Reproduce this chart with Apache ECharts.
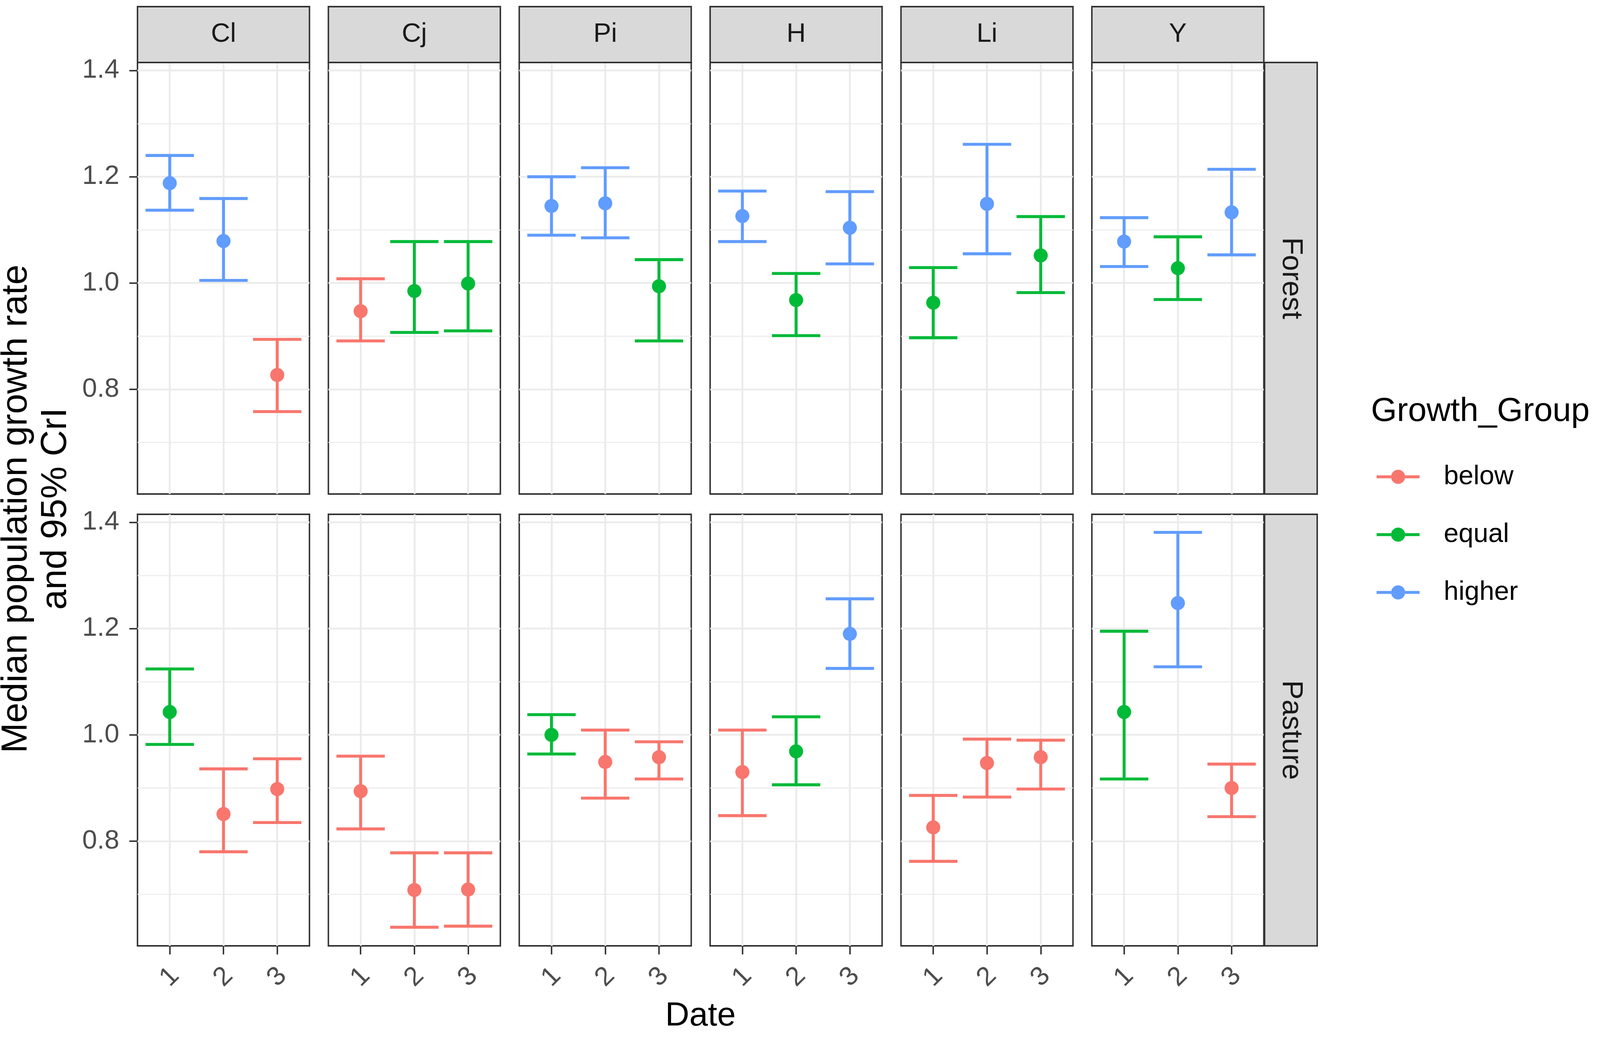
<!DOCTYPE html>
<html><head><meta charset="utf-8">
<script src="https://cdn.jsdelivr.net/npm/echarts@6/dist/echarts.min.js"></script>
<style>html,body{margin:0;padding:0;background:#fff;overflow:hidden;width:100%;height:100%}#c{width:100%;height:100vh}</style>
</head><body><div id="c"></div>
<script>
// ---------------- data ----------------
const species = ['Cl', 'Cj', 'Pi', 'H', 'Li', 'Y'];
const habitats = ['Forest', 'Pasture'];
const dates = [1, 2, 3];
const groups = ['below', 'equal', 'higher'];
const yTicks = [0.8, 1.0, 1.2, 1.4];
const yMinorTicks = [0.7, 0.9, 1.1, 1.3];

const forestMedian = [
  [1.188, 1.079, 0.827], [0.947, 0.985, 0.999], [1.145, 1.150, 0.994],
  [1.126, 0.968, 1.104], [0.963, 1.149, 1.052], [1.078, 1.028, 1.133]];
const forestLower = [
  [1.137, 1.005, 0.758], [0.891, 0.907, 0.910], [1.090, 1.085, 0.891],
  [1.078, 0.901, 1.036], [0.897, 1.055, 0.982], [1.031, 0.969, 1.053]];
const forestUpper = [
  [1.240, 1.159, 0.894], [1.008, 1.078, 1.078], [1.200, 1.217, 1.044],
  [1.173, 1.018, 1.172], [1.029, 1.261, 1.125], [1.123, 1.087, 1.214]];
const forestGroup = [
  ['higher', 'higher', 'below'], ['below', 'equal', 'equal'], ['higher', 'higher', 'equal'],
  ['higher', 'equal', 'higher'], ['equal', 'higher', 'equal'], ['higher', 'equal', 'higher']];

const pastureMedian = [
  [1.043, 0.851, 0.898], [0.894, 0.708, 0.709], [1.000, 0.949, 0.958],
  [0.930, 0.969, 1.190], [0.826, 0.947, 0.958], [1.043, 1.248, 0.900]];
const pastureLower = [
  [0.982, 0.780, 0.835], [0.823, 0.638, 0.640], [0.964, 0.881, 0.917],
  [0.848, 0.906, 1.125], [0.762, 0.883, 0.898], [0.917, 1.128, 0.846]];
const pastureUpper = [
  [1.124, 0.936, 0.955], [0.960, 0.778, 0.778], [1.038, 1.009, 0.987],
  [1.009, 1.034, 1.256], [0.886, 0.992, 0.990], [1.195, 1.381, 0.945]];
const pastureGroup = [
  ['equal', 'below', 'below'], ['below', 'below', 'below'], ['equal', 'below', 'below'],
  ['below', 'equal', 'higher'], ['below', 'below', 'below'], ['equal', 'higher', 'below']];

// ---------------- styles / layout ----------------
const groupColors = { below: '#F8766D', equal: '#00BA38', higher: '#619CFF' };
const FONT = '"Liberation Sans", Arial, Helvetica, sans-serif';
const Y_MIN = 0.603, Y_MAX = 1.415, X_MIN = 0.4, X_MAX = 3.6;

const chart = echarts.init(document.getElementById('c'), null, { renderer: 'canvas' });
const CW = chart.getWidth(), CH = chart.getHeight();
const sx = CW / 4317, sy = CH / 2658, sf = Math.min(sx, sy);
const px = v => v * sx, py = v => v * sy, fz = v => v * sf;

const PANEL_LEFT = 371, PANEL_W = 464, PANEL_STEP = 515;
const ROW_TOP = [160, 1317], PANEL_H = 1105;
const STRIP_TOP = 17;

const medianByRow = [forestMedian, pastureMedian];
const lowerByRow = [forestLower, pastureLower];
const upperByRow = [forestUpper, pastureUpper];
const groupByRow = [forestGroup, pastureGroup];

const grids = [], xAxes = [], yAxes = [], series = [], graphics = [];

function renderErr(params, api) {
  const x = api.value(0), lo = api.value(1), hi = api.value(2);
  const pLo = api.coord([x, lo]), pHi = api.coord([x, hi]);
  const hw = api.size([0.9, 0])[0] / 2;
  const st = { stroke: api.visual('color'), lineWidth: fz(8), fill: 'none', lineCap: 'butt' };
  return {
    type: 'group',
    children: [
      { type: 'line', shape: { x1: pLo[0], y1: pLo[1], x2: pHi[0], y2: pHi[1] }, style: st },
      { type: 'line', shape: { x1: pHi[0] - hw, y1: pHi[1], x2: pHi[0] + hw, y2: pHi[1] }, style: st },
      { type: 'line', shape: { x1: pLo[0] - hw, y1: pLo[1], x2: pLo[0] + hw, y2: pLo[1] }, style: st }
    ]
  };
}

const tickStyle = { color: '#333333', width: fz(4) };
const gridMajor = { color: '#EBEBEB', width: fz(5) };
const gridMinor = { color: '#EBEBEB', width: fz(2.5) };

for (let r = 0; r < habitats.length; r++) {
  for (let c = 0; c < species.length; c++) {
    const idx = r * species.length + c;
    const L = PANEL_LEFT + c * PANEL_STEP, T = ROW_TOP[r];
    grids.push({ left: px(L), top: py(T), width: px(PANEL_W), height: py(PANEL_H), show: true,
      borderColor: '#333333', borderWidth: fz(4), backgroundColor: '#ffffff' });
    xAxes.push({
      gridIndex: idx, type: 'value', min: X_MIN, max: X_MAX,
      axisLine: { show: false },
      axisTick: { show: r === 1, customValues: dates, length: py(22), lineStyle: tickStyle },
      axisLabel: { show: r === 1, customValues: dates, rotate: 45, align: 'center', verticalAlign: 'middle',
        margin: py(80), fontSize: fz(72), color: '#4D4D4D', fontFamily: FONT },
      splitLine: { show: true, lineStyle: gridMajor }
    });
    yAxes.push({
      gridIndex: idx, type: 'value', min: Y_MIN, max: Y_MAX, position: 'left',
      axisLine: { show: false },
      axisTick: { show: c === 0, customValues: yTicks, length: px(22), lineStyle: tickStyle },
      axisLabel: { show: c === 0, customValues: yTicks, formatter: v => Number(v).toFixed(1),
        margin: px(49), fontSize: fz(72), color: '#4D4D4D', fontFamily: FONT },
      splitLine: { show: true, lineStyle: gridMajor }
    });
    yAxes.push({
      gridIndex: idx, type: 'value', min: Y_MIN, max: Y_MAX, position: 'left',
      axisLine: { show: false },
      axisTick: { show: false, customValues: yMinorTicks },
      axisLabel: { show: false, customValues: yMinorTicks },
      splitLine: { show: true, lineStyle: gridMinor }
    });
    const med = medianByRow[r][c], lo = lowerByRow[r][c], hi = upperByRow[r][c], grp = groupByRow[r][c];
    groups.forEach(g => {
      const ks = dates.map((d, k) => k).filter(k => grp[k] === g);
      if (!ks.length) return;
      series.push({
        name: g, type: 'scatter', xAxisIndex: idx, yAxisIndex: 2 * idx,
        symbol: 'circle', symbolSize: fz(38), z: 4, silent: true,
        itemStyle: { color: groupColors[g], opacity: 1 },
        data: ks.map(k => [dates[k], med[k]])
      });
      series.push({
        name: g, type: 'custom', xAxisIndex: idx, yAxisIndex: 2 * idx, z: 3, silent: true,
        itemStyle: { color: groupColors[g] },
        renderItem: renderErr,
        encode: { x: 0, y: [1, 2] },
        data: ks.map(k => [dates[k], lo[k], hi[k]])
      });
    });
  }
}

// size: font size already in page pixels
function txt(text, x, y, size, color, rotation, align) {
  return { type: 'text', x: px(x), y: py(y), rotation: rotation || 0, z: 10,
    style: { text: text, fontSize: size, fontFamily: FONT, fill: color,
      align: align || 'center', textAlign: align || 'center',
      verticalAlign: 'middle', textVerticalAlign: 'middle', lineHeight: size * 1.08 } };
}

// top strips
species.forEach((s, c) => {
  const L = PANEL_LEFT + c * PANEL_STEP;
  graphics.push({ type: 'rect', z: 5,
    shape: { x: px(L), y: py(STRIP_TOP), width: px(PANEL_W), height: py(ROW_TOP[0] - STRIP_TOP) },
    style: { fill: '#D9D9D9', stroke: '#333333', lineWidth: fz(4) } });
  graphics.push(txt(s, L + PANEL_W / 2, (STRIP_TOP + ROW_TOP[0]) / 2, fz(72), '#1A1A1A'));
});
// right strips (vertical text: length follows the vertical scale)
const stripX = PANEL_LEFT + (species.length - 1) * PANEL_STEP + PANEL_W + 2;
habitats.forEach((h, r) => {
  graphics.push({ type: 'rect', z: 5,
    shape: { x: px(stripX), y: py(ROW_TOP[r]), width: px(142), height: py(PANEL_H) },
    style: { fill: '#D9D9D9', stroke: '#333333', lineWidth: fz(4) } });
  graphics.push(txt(h, stripX + 71, ROW_TOP[r] + PANEL_H / 2, sy * 74, '#1A1A1A', -Math.PI / 2));
});
// axis titles
graphics.push(txt('Median population growth rate\nand 95% CrI', 98, 1303, sy * 93, '#000000', Math.PI / 2));
graphics.push(txt('Date', 1890, 2602, fz(90), '#000000'));
// legend title
graphics.push(txt('Growth_Group', 3699, 1054, fz(90), '#000000', 0, 'left'));

const ICON = 'path://M0,15H39V23H0Z M77,15H116V23H77Z M39,19A19,19 0 1,1 77,19A19,19 0 1,1 39,19Z';

chart.setOption({
  backgroundColor: '#ffffff',
  animation: false,
  grid: grids,
  xAxis: xAxes,
  yAxis: yAxes,
  series: series,
  legend: {
    data: groups.map(g => ({ name: g, icon: ICON, itemStyle: { color: groupColors[g] } })),
    orient: 'vertical', left: px(3709), top: py(1180),
    itemWidth: px(116), itemHeight: fz(38), itemGap: py(76), selectedMode: false,
    textStyle: { fontSize: fz(72), color: '#000000', fontFamily: FONT, lineHeight: py(72), padding: [0, 0, 0, px(60)] }
  },
  graphic: graphics
});
</script></body></html>
